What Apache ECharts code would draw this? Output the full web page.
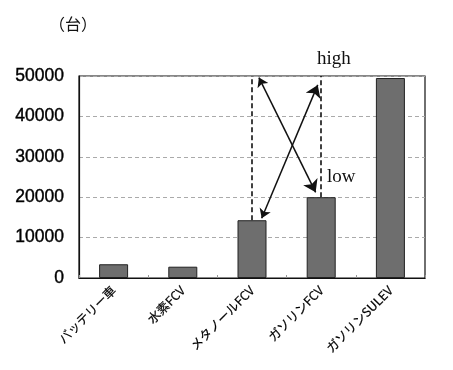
<!DOCTYPE html>
<html><head><meta charset="utf-8">
<script src="https://cdn.jsdelivr.net/npm/echarts@6/dist/echarts.min.js"></script>
<style>html,body{margin:0;padding:0;background:#fff}#c{width:453px;height:370px}</style>
</head><body><div id="c"></div>
<script>
const categories = ['バッテリー車', '水素FCV', 'メタノールFCV', 'ガソリンFCV', 'ガソリンSULEV'];
const values = [3400, 2800, 14300, 20000, 49500];
const yTicks = [0, 10000, 20000, 30000, 40000, 50000];
// range lines (category index, low value, high value)
const rangeLines = [[2, 14300, 50000], [3, 20000, 50000]];
// crossing double-headed arrows [x1, y1, x2, y2] in category-index units
const arrows = [[2.1, 49600, 2.92, 21200], [2.14, 14800, 2.95, 47800]];
const annotations = ['high', 'low'];

const chart = echarts.init(document.getElementById('c'));
chart.setOption({
  animation: false,
  title: { text: '（台）', left: 44, top: 11, textStyle: { fontFamily: 'Noto Sans CJK JP', fontSize: 16, fontWeight: 'normal', color: '#111' } },
  grid: { left: 79, right: 28, top: 76, bottom: 92, show: true, borderColor: '#111', borderWidth: 1.2, containLabel: false },
  xAxis: [{
    type: 'category', data: categories,
    axisLine: { lineStyle: { color: '#111', width: 1.2 } },
    axisTick: { show: true, inside: true, length: 3, lineStyle: { color: '#999' } },
    axisLabel: { rotate: 45, interval: 0, fontSize: 12.5, color: '#000', fontFamily: 'Noto Sans CJK JP', margin: 10, textBorderColor: '#000', textBorderWidth: 0.2 }
  }, {
    type: 'value', min: -0.5, max: 4.5, show: false
  }],
  yAxis: {
    type: 'value', min: yTicks[0], max: yTicks[yTicks.length - 1], interval: 10000,
    axisLine: { show: true, onZero: false, lineStyle: { color: '#111', width: 1.2 } },
    axisTick: { show: false },
    axisLabel: { fontSize: 17.5, color: '#000', fontFamily: 'Liberation Sans', margin: 15, formatter: v => String(v), textBorderColor: '#000', textBorderWidth: 0.4 },
    splitLine: { lineStyle: { color: '#aaa', type: [4, 3], width: 1 } }
  },
  series: [{
    type: 'bar', data: values, barWidth: 29,
    itemStyle: { color: '#6e6e6e', borderColor: '#222', borderWidth: 1 }
  }, {
    type: 'lines', coordinateSystem: 'cartesian2d', xAxisIndex: 1, yAxisIndex: 0,
    symbol: ['none', 'none'],
    lineStyle: { color: '#111', width: 1.6, type: [5, 3], opacity: 1 },
    data: rangeLines.map(r => ({ coords: [[r[0], r[1]], [r[0], r[2]]] }))
  }, {
    type: 'lines', coordinateSystem: 'cartesian2d', xAxisIndex: 1, yAxisIndex: 0,
    symbol: ['arrow', 'arrow'], symbolSize: [9, 12],
    lineStyle: { color: '#111', width: 1.5, type: 'solid', opacity: 1 },
    data: arrows.map(a => ({ coords: [[a[0], a[1]], [a[2], a[3]]] }))
  }],
  graphic: [
    { type: 'text', left: 317, top: 50, style: { text: annotations[0], font: '19px "Liberation Serif"', fill: '#111' } },
    { type: 'text', left: 327, top: 168, style: { text: annotations[1], font: '19px "Liberation Serif"', fill: '#111' } }
  ]
});
</script></body></html>
